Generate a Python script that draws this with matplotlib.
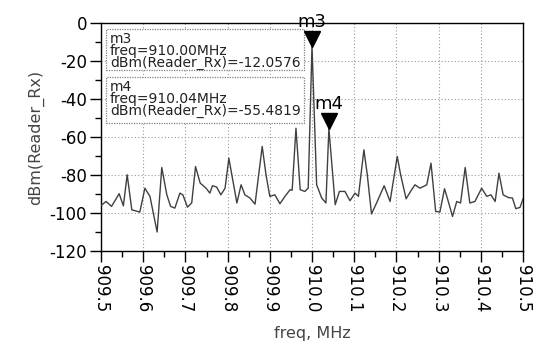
import matplotlib
matplotlib.use("Agg")
import matplotlib.pyplot as plt
import matplotlib.transforms as mtransforms
from matplotlib.patches import Rectangle
from matplotlib.ticker import MultipleLocator

freq = [909.500, 909.512, 909.525, 909.543, 909.553, 909.562, 909.573, 909.592,
        909.604, 909.616, 909.633, 909.644, 909.656, 909.665, 909.675, 909.687,
        909.694, 909.705, 909.715, 909.724, 909.735, 909.749, 909.758, 909.764,
        909.774, 909.784, 909.794, 909.803, 909.810, 909.822, 909.832, 909.841,
        909.853, 909.865, 909.882, 909.891, 909.900, 909.912, 909.924, 909.936,
        909.948, 909.953, 909.962, 909.972, 909.983, 909.991, 910.000, 910.011,
        910.023, 910.033, 910.040, 910.055, 910.065, 910.078, 910.090, 910.102,
        910.110, 910.123, 910.131, 910.141, 910.153, 910.171, 910.185, 910.202,
        910.210, 910.223, 910.236, 910.244, 910.256, 910.272, 910.282, 910.293,
        910.303, 910.314, 910.323, 910.333, 910.343, 910.352, 910.363, 910.374,
        910.386, 910.402, 910.414, 910.424, 910.434, 910.443, 910.453, 910.465,
        910.475, 910.483, 910.493, 910.500]
dbm = [-96.0, -93.9, -96.5, -89.8, -96.2, -79.8, -98.3, -99.5,
       -86.9, -91.2, -110.0, -76.0, -90.4, -96.5, -97.4, -89.5,
       -90.4, -96.9, -94.6, -75.5, -84.2, -86.9, -89.5, -85.6,
       -86.3, -90.4, -86.9, -71.1, -79.8, -94.7, -85.1, -90.4,
       -92.1, -95.3, -64.9, -79.8, -91.2, -90.4, -95.1, -91.2,
       -87.7, -88.0, -55.3, -87.7, -88.6, -86.9, -12.0576, -85.1,
       -92.1, -94.7, -55.4819, -95.6, -88.6, -88.6, -93.5, -89.5,
       -91.2, -66.7, -79.8, -100.5, -94.7, -85.6, -93.9, -70.2,
       -79.8, -92.5, -87.7, -85.1, -86.9, -85.1, -73.7, -99.1,
       -99.5, -87.2, -93.9, -101.8, -93.9, -94.7, -76.0, -94.7,
       -93.9, -86.9, -91.2, -90.4, -93.9, -79.0, -90.4, -91.8,
       -92.1, -97.7, -97.0, -92.6]

markers = ["m3", "m4"]
marker_freq = [910.00, 910.04]
marker_val = [-12.0576, -55.4819]

xticks = [909.5, 909.6, 909.7, 909.8, 909.9, 910.0, 910.1, 910.2, 910.3, 910.4, 910.5]
xticklabels = ["909.5", "909.6", "909.7", "909.8", "909.9", "910.0",
               "910.1", "910.2", "910.3", "910.4", "910.5"]
yticks = [0, -20, -40, -60, -80, -100, -120]

plt.rcParams['font.family'] = ['DejaVu Sans']
plt.rcParams['axes.unicode_minus'] = False

fig = plt.figure(figsize=(5.4, 3.47), dpi=100)
ax = fig.add_axes([101/540, 1 - 251/347, 422/540, 227.7/347])

ax.plot(freq, dbm, color="#404040", lw=1.0, zorder=3)

ax.set_xlim(909.5, 910.5)
ax.set_ylim(-120, 0)
ax.set_xticks(xticks)
ax.set_xticklabels(xticklabels, rotation=270, fontsize=12)
ax.set_yticks(yticks)
ax.tick_params(axis='y', labelsize=12)
ax.xaxis.set_minor_locator(MultipleLocator(0.05))
ax.yaxis.set_minor_locator(MultipleLocator(10))
ax.tick_params(which='major', direction='out', length=8, width=1, color='black', pad=2)
ax.tick_params(which='minor', direction='out', length=4.5, width=1, color='black')
ax.grid(True, which='major', color='#9a9a9a', linestyle=(0, (1, 2)), linewidth=0.8)
for s in ax.spines.values():
    s.set_color('black')
    s.set_linewidth(1.0)

ax.set_xlabel("freq, MHz", fontsize=11.5, color="#444444", labelpad=10)
ax.set_ylabel("dBm(Reader_Rx)", fontsize=11.5, color="#444444", labelpad=4)

# markers
for name, f, v in zip(markers, marker_freq, marker_val):
    tr = mtransforms.offset_copy(ax.transData, fig=fig, x=0, y=5.5, units='points')
    ax.plot([f], [v], marker='v', markersize=11, color='black', transform=tr,
            clip_on=False, zorder=5)
    ax.annotate(name, xy=(f, v), xytext=(0, 11), textcoords='offset points',
                ha='center', va='bottom', fontsize=13, color='black',
                annotation_clip=False, zorder=6)

# marker readout boxes
boxes = [(0.795, 0.975), (0.563, 0.763)]
first_line_y = [0.918, 0.710]
for (b0, b1), yy, name, f, v in zip(boxes, first_line_y, markers, marker_freq, marker_val):
    ax.add_patch(Rectangle((0.013, b0), 0.468, b1 - b0, transform=ax.transAxes,
                           facecolor='white', edgecolor='#808080', lw=0.9,
                           linestyle=(0, (1, 1)), zorder=4))
    txt = "\n".join([name, "freq=%.2fMHz" % f, "dBm(Reader_Rx)=%.4f" % v])
    ax.text(0.021, b1 - 0.012, txt, transform=ax.transAxes, fontsize=10,
            linespacing=0.82, color='#222222', va='top', ha='left', zorder=5)

fig.savefig("out.png", dpi=100)
